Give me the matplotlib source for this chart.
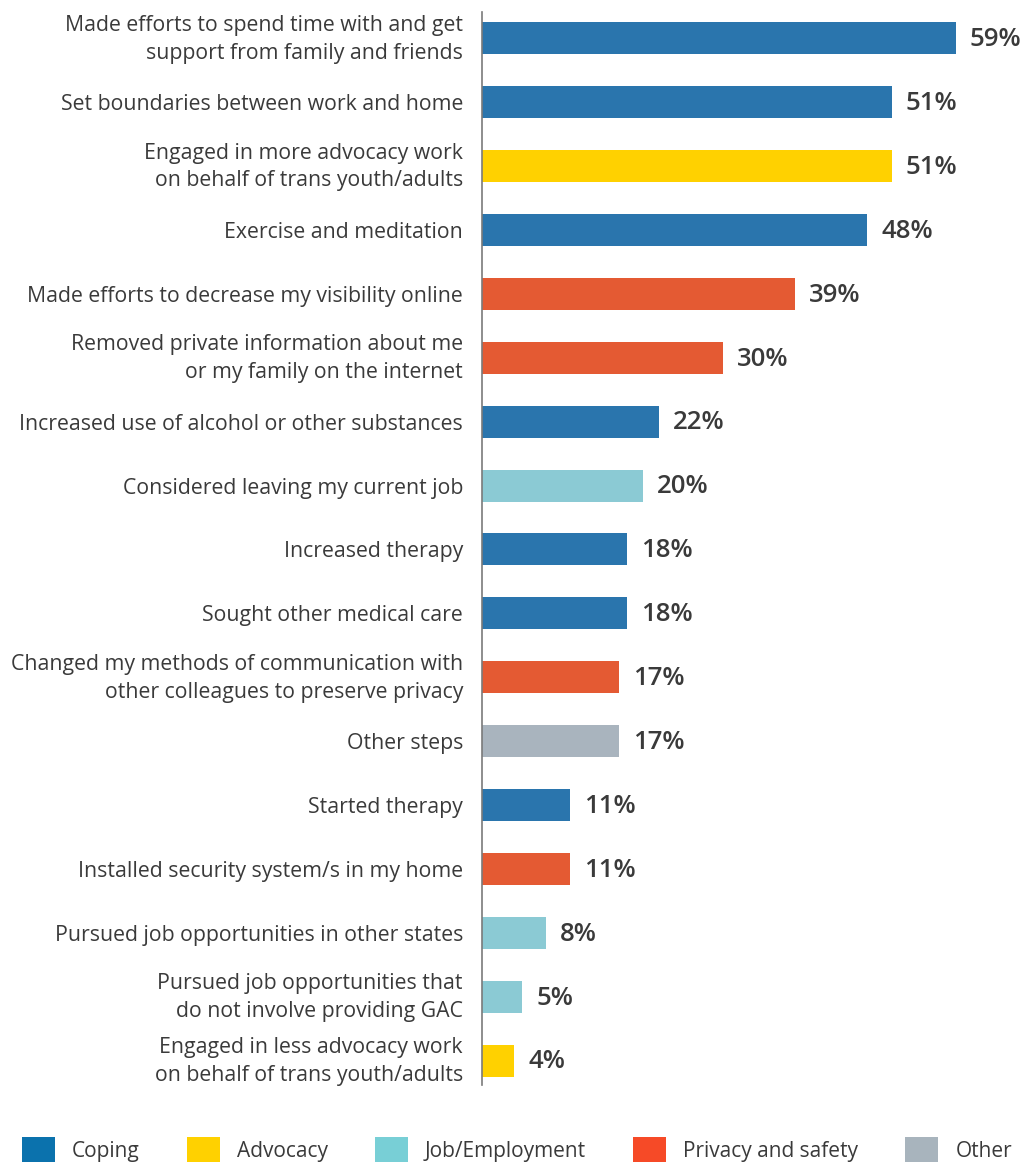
import matplotlib
matplotlib.use("Agg")
import matplotlib.pyplot as plt
from matplotlib.patches import Patch
from matplotlib.transforms import ScaledTranslation

plt.rcParams['font.family'] = ['Open Sans', 'DejaVu Sans']

labels = [
    "Made efforts to spend time with and get\nsupport from family and friends",
    "Set boundaries between work and home",
    "Engaged in more advocacy work\non behalf of trans youth/adults",
    "Exercise and meditation",
    "Made efforts to decrease my visibility online",
    "Removed private information about me\nor my family on the internet",
    "Increased use of alcohol or other substances",
    "Considered leaving my current job",
    "Increased therapy",
    "Sought other medical care",
    "Changed my methods of communication with\nother colleagues to preserve privacy",
    "Other steps",
    "Started therapy",
    "Installed security system/s in my home",
    "Pursued job opportunities in other states",
    "Pursued job opportunities that\ndo not involve providing GAC",
    "Engaged in less advocacy work\non behalf of trans youth/adults",
]
values = [59, 51, 51, 48, 39, 30, 22, 20, 18, 18, 17, 17, 11, 11, 8, 5, 4]
groups = ["Coping", "Coping", "Advocacy", "Coping", "Privacy and safety",
          "Privacy and safety", "Coping", "Job/Employment", "Coping", "Coping",
          "Privacy and safety", "Other", "Coping", "Privacy and safety",
          "Job/Employment", "Job/Employment", "Advocacy"]

legend_order = ["Coping", "Advocacy", "Job/Employment", "Privacy and safety", "Other"]
bar_colors = {
    "Coping": "#2A75AD",
    "Advocacy": "#FFD100",
    "Job/Employment": "#8BCAD4",
    "Privacy and safety": "#E45A33",
    "Other": "#A9B4BE",
}
legend_colors = {
    "Coping": "#0B72AD",
    "Advocacy": "#FFD100",
    "Job/Employment": "#78CFD6",
    "Privacy and safety": "#F64A27",
    "Other": "#A8B4BD",
}

text_color = "#3a3a3a"

fig = plt.figure(figsize=(10.26, 11.62), dpi=100)
ax = fig.add_axes([482 / 1026, 1 - 1085 / 1162, (1016 - 482) / 1026, (1085 - 12) / 1162])

ypos = list(range(len(values)))
ax.barh(ypos, values, height=0.5, color=[bar_colors[g] for g in groups])

for y, v in zip(ypos, values):
    ax.text(v + 1.75, y + 0.02, f"{v}%", va="center", ha="left", fontsize=18.5,
            fontweight="semibold", color=text_color)

ax.set_xlim(0, (1016 - 482) / 8.03)
ax.set_ylim(16.38, -0.41)
ax.set_yticks(ypos)
ax.set_yticklabels(labels, fontsize=15.3, color=text_color, linespacing=1.42)
ax.tick_params(axis="y", length=0, pad=13.7)
ax.set_xticks([])

# nudge two-line labels up slightly so both lines sit evenly around the bar
lift = ScaledTranslation(0, 3.5 / 72, fig.dpi_scale_trans)
for tl in ax.get_yticklabels():
    if "\n" in tl.get_text():
        tl.set_transform(tl.get_transform() + lift)

for side in ["top", "right", "bottom"]:
    ax.spines[side].set_visible(False)
ax.spines["left"].set_color("#7a7a7a")
ax.spines["left"].set_linewidth(1.2)

handles = [Patch(facecolor=legend_colors[g], edgecolor="none", label=g) for g in legend_order]
fig.legend(handles=handles, loc="center left", bbox_to_anchor=(22 / 1026, 12 / 1162),
           ncol=5, frameon=False, fontsize=15, handlelength=1.59, handleheight=1.6,
           handletextpad=0.82, columnspacing=2.25, labelcolor=text_color,
           borderpad=0, borderaxespad=0)

fig.savefig("out.png", dpi=100, facecolor="white")
